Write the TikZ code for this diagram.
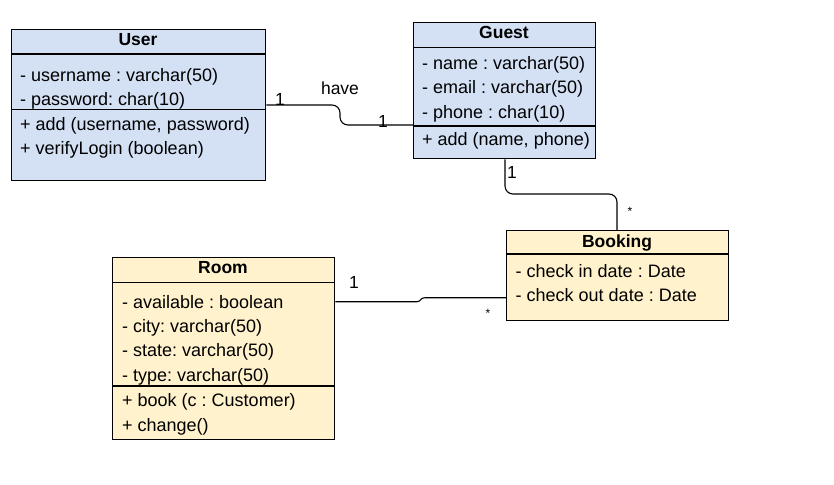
\documentclass[tikz,border=0pt]{standalone}
\usepackage{fontspec}
\setmainfont{Liberation Sans}
\frenchspacing
\definecolor{ublue}{HTML}{D4E1F5}
\definecolor{uyellow}{HTML}{FFF2CC}
\begin{document}
\begin{tikzpicture}[x=1pt,y=-1pt,
  box/.style={draw=black, line width=1.3pt, inner sep=0pt, anchor=north west},
  bluebox/.style={box, fill=ublue},
  yellowbox/.style={box, fill=uyellow},
  divider/.style={line width=1.3pt},
  txt/.style={anchor=base west, inner sep=0pt, font=\fontsize{18}{21}\selectfont},
  hdr/.style={anchor=base, inner sep=0pt, font=\fontsize{17.5}{20}\selectfont\bfseries},
  conn/.style={line width=1.1pt, rounded corners=8pt},
  lbl/.style={inner sep=0pt, font=\fontsize{17.5}{20}\selectfont},
  star/.style={inner sep=0pt, font=\fontsize{12}{14}\selectfont}]
\useasboundingbox[fill=white] (0,0) rectangle (834,484);

% User
\node[bluebox, minimum width=254pt, minimum height=151pt] (user) at (11,29) {};
\draw[divider] (user.west |- 0,54) -- (user.east |- 0,54);
\draw[divider] (user.west |- 0,109.3) -- (user.east |- 0,109.3);
\node[hdr] (userh) at (138,46) {User};
\node[txt] (u1) at (20,81.7) {- username : varchar(50)};
\node[txt] (u2) at (20,105.5) {- password: char(10)};
\node[txt] (u3) at (20,130) {+ add (username, password)};
\node[txt] (u4) at (20,154.3) {+ verifyLogin (boolean)};

% Guest
\node[bluebox, minimum width=182pt, minimum height=136pt] (guest) at (413,22) {};
\draw[divider] (guest.west |- 0,47.3) -- (guest.east |- 0,47.3);
\draw[divider] (guest.west |- 0,126) -- (guest.east |- 0,126);
\node[hdr] (guesth) at (504,38.5) {Guest};
\node[txt] (g1) at (422,70) {- name : varchar(50)};
\node[txt] (g2) at (422,94) {- email : varchar(50)};
\node[txt] (g3) at (422,118) {- phone : char(10)};
\node[txt] (g4) at (422,145) {+ add (name, phone)};

% Booking
\node[yellowbox, minimum width=222pt, minimum height=89.5pt] (booking) at (506,230) {};
\draw[divider] (booking.west |- 0,254) -- (booking.east |- 0,254);
\node[hdr] (bookingh) at (617,247) {Booking};
\node[txt] (b1) at (515.5,277) {- check in date : Date};
\node[txt] (b2) at (515.5,301) {- check out date : Date};

% Room
\node[yellowbox, minimum width=222pt, minimum height=181.5pt] (room) at (112,257) {};
\draw[divider] (room.west |- 0,282.5) -- (room.east |- 0,282.5);
\draw[divider] (room.west |- 0,386) -- (room.east |- 0,386);
\node[hdr] (roomh) at (223,273.5) {Room};
\node[txt] (r1) at (122,308.3) {- available : boolean};
\node[txt] (r2) at (122,332.6) {- city: varchar(50)};
\node[txt] (r3) at (122,356.8) {- state: varchar(50)};
\node[txt] (r4) at (122,381) {- type: varchar(50)};
\node[txt] (r5) at (122,406.7) {+ book (c : Customer)};
\node[txt] (r6) at (122,431.5) {+ change()};

% Connectors
\draw[conn] (user.east |- 0,105) -- (340,105) -- (340,125) -- (guest.west |- 0,125);
\draw[conn] (guest.south -| 505,0) -- (505,194) -- (617,194) -- (booking.north -| 617,0);
\draw[line width=1.1pt] (room.east |- 0,301.7) -- (417,301.7)
  .. controls (421,301.7) and (420,297.7) .. (425,297.7) -- (booking.west |- 0,297.7);

% Labels
\node[lbl] (l1) at (280,99) {1};
\node[lbl] (lhave) at (340,88) {have};
\node[lbl] (l2) at (383,121) {1};
\node[lbl] (l3) at (512,172) {1};
\node[star] (s1) at (630,211) {*};
\node[lbl] (l4) at (354,282) {1};
\node[star] (s2) at (488,313) {*};
\end{tikzpicture}
\end{document}
